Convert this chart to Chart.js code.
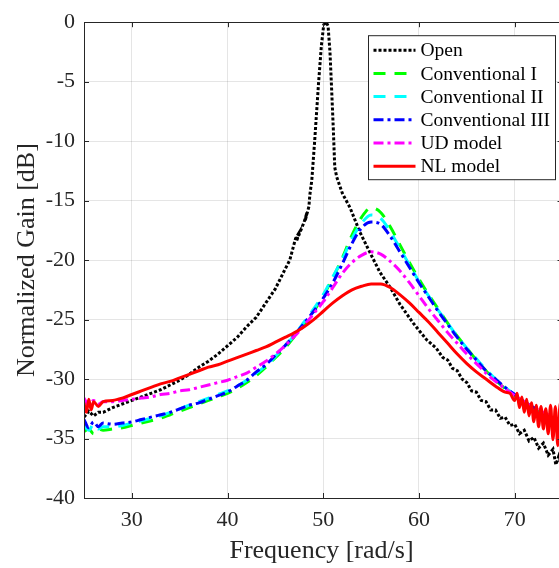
<!DOCTYPE html>
<html>
<head>
<meta charset="utf-8">
<script src="https://cdn.jsdelivr.net/npm/chart.js@4.4.1/dist/chart.umd.min.js"></script>
<style>
  html, body { margin: 0; padding: 0; background: #ffffff; }
  #wrap { width: 559px; height: 568px; position: relative; }
</style>
</head>
<body>
<div id="wrap"><canvas id="c" width="559" height="568"></canvas></div>
<script>
// Axis ticks
const freqTicks = [30, 40, 50, 60, 70];
const gainTicks = [-40, -35, -30, -25, -20, -15, -10, -5, 0];

// Open loop measurement
const openFreq = [
  25, 25.5, 26, 26.5, 27, 28, 29, 30, 31, 32,
  33, 34, 35, 36, 37, 38, 39, 40, 41, 42,
  43, 44, 45, 45.8, 46.5, 46.8, 47.1, 47.4, 47.2, 47.7,
  48.0, 48.3, 48.1, 48.5, 48.6, 48.8, 49.1, 49.5, 49.8, 50.05,
  50.3, 50.5, 50.7, 50.85, 51.05, 51.2, 51.4, 52.0, 52.8, 53.8,
  54.9, 55.9, 57.0, 58.0, 59.4, 60.8, 61.8, 62.5, 63, 63.5,
  64, 64.5, 65, 65.5, 66, 66.5, 67, 67.5, 68, 68.5,
  69, 69.5, 70, 70.5, 71, 71.5, 72, 72.5, 73, 73.5,
  74, 74.3, 74.6, 75
];
const openGain = [
  -33.2, -32.7, -33.1, -32.8, -32.8, -32.4, -32.1, -31.8, -31.5, -31.2,
  -30.9, -30.5, -30.1, -29.6, -29.0, -28.5, -27.9, -27.2, -26.5, -25.6,
  -24.8, -23.6, -22.4, -21.1, -20.0, -19.1, -18.2, -17.8, -18.4, -17.4,
  -16.8, -16.0, -16.7, -15.5, -14.5, -13.3, -10.0, -5.2, -2.0, -0.2,
  0.0, -0.3, -2.5, -5.2, -9.0, -12.2, -13.0, -14.4, -15.6, -17.6,
  -19.4, -21.0, -22.3, -23.7, -25.3, -26.7, -27.4, -28.2, -28.4, -29.1,
  -29.3, -30.0, -30.3, -31.0, -31.1, -31.8, -31.9, -32.6, -32.6, -33.3,
  -33.2, -33.9, -33.8, -34.6, -34.3, -35.2, -34.9, -35.8, -35.4, -36.4,
  -35.9, -37.2, -36.5, -37.5
];

// Conventional controllers and UD model share one frequency grid
const convFreq = [
  25, 25.5, 26, 26.5, 27, 28, 29, 30, 31, 32,
  33, 34, 35, 36, 37, 38, 39, 40, 41, 42,
  43, 44, 45, 46, 47, 48, 49, 50, 51, 52,
  53, 54, 55, 56, 57, 58, 59, 60, 61, 62,
  63, 64, 65, 66, 67, 68, 69, 70, 71, 72,
  73, 74, 75
];
const conv1Gain = [
  -34.4, -34.2, -34.6, -34.2, -34.3, -34.2, -34.1, -33.9, -33.7, -33.5,
  -33.3, -33.0, -32.7, -32.4, -32.1, -31.8, -31.5, -31.2, -30.8, -30.3,
  -29.7, -29.0, -28.2, -27.4, -26.4, -25.4, -24.3, -23.0, -21.5, -19.8,
  -17.9, -16.4, -15.6, -16.0, -17.2, -18.7, -20.2, -21.6, -22.9, -24.1,
  -25.3, -26.4, -27.4, -28.4, -29.3, -30.1, -30.8, -31.4, -32.0, -32.5,
  -33.0, -33.5, -34.0
];
const conv2Gain = [
  -33.9, -34.3, -33.8, -34.2, -34.0, -34.0, -33.9, -33.7, -33.5, -33.3,
  -33.1, -32.8, -32.5, -32.2, -31.9, -31.6, -31.3, -31.0, -30.6, -30.1,
  -29.5, -28.9, -28.1, -27.2, -26.3, -25.2, -24.1, -22.9, -21.4, -19.9,
  -18.2, -16.9, -16.2, -16.5, -17.6, -19.0, -20.4, -21.8, -23.0, -24.2,
  -25.3, -26.4, -27.4, -28.3, -29.2, -30.0, -30.7, -31.3, -31.9, -32.4,
  -32.9, -33.4, -33.9
];
const conv3Gain = [
  -33.4, -34.1, -33.6, -34.0, -33.7, -33.8, -33.7, -33.6, -33.4, -33.2,
  -33.0, -32.8, -32.5, -32.2, -32.0, -31.7, -31.4, -31.1, -30.6, -30.1,
  -29.4, -28.8, -28.0, -27.2, -26.3, -25.3, -24.3, -23.2, -21.9, -20.3,
  -18.6, -17.3, -16.8, -17.0, -18.0, -19.3, -20.6, -21.9, -23.1, -24.3,
  -25.4, -26.5, -27.5, -28.4, -29.3, -30.0, -30.7, -31.3, -31.9, -32.4,
  -32.9, -33.4, -33.9
];
const udGain = [
  -31.6, -32.2, -31.8, -32.1, -31.9, -31.9, -31.8, -31.7, -31.6, -31.5,
  -31.3, -31.2, -31.0, -30.9, -30.7, -30.5, -30.3, -30.1, -29.8, -29.5,
  -29.0, -28.5, -27.9, -27.2, -26.4, -25.5, -24.5, -23.5, -22.3, -21.1,
  -20.2, -19.6, -19.3, -19.5, -20.1, -20.9, -21.9, -23.0, -24.1, -25.1,
  -26.1, -27.0, -27.9, -28.7, -29.5, -30.2, -30.8, -31.4, -31.9, -32.4,
  -32.8, -33.2, -33.6
];

// NL model, measured on a finer grid at the ends
const nlFreq = [
  25, 25.25, 25.5, 25.75, 26, 26.5, 27, 28, 29, 30,
  31, 32, 33, 34, 35, 36, 37, 38, 39, 40,
  41, 42, 43, 44, 45, 46, 47, 48, 49, 50,
  51, 52, 53, 54, 55, 56, 57, 58, 59, 60,
  61, 62, 63, 64, 65, 66, 67, 68, 69, 69.5,
  70, 70.25, 70.5, 70.75, 71, 71.25, 71.5, 71.75, 72, 72.25,
  72.5, 72.75, 73, 73.25, 73.5, 73.75, 74, 74.25, 74.5, 74.75,
  75
];
const nlGain = [
  -32.0, -32.8, -31.7, -32.6, -31.9, -32.3, -31.9, -31.8, -31.6, -31.3,
  -31.0, -30.7, -30.4, -30.2, -29.9, -29.6, -29.3, -29.0, -28.8, -28.5,
  -28.2, -27.9, -27.6, -27.3, -26.9, -26.5, -26.1, -25.6, -25.0, -24.3,
  -23.6, -23.0, -22.5, -22.2, -22.0, -22.0, -22.3, -22.9, -23.6, -24.4,
  -25.2, -26.1, -27.0, -27.9, -28.7, -29.4, -30.0, -30.6, -31.1, -31.2,
  -31.8, -31.2, -32.4, -31.5, -32.8, -31.7, -33.1, -32.0, -33.6, -32.2,
  -34.0, -32.3, -34.2, -32.5, -34.6, -32.2, -35.1, -32.3, -35.6, -32.0,
  -35.4
];

const pts = (xs, ys) => xs.map((x, i) => ({ x: x, y: ys[i] }));

const SERIF = "'Liberation Serif', 'Times New Roman', 'DejaVu Serif', serif";
const AXIS_COLOR = '#262626';

const datasets = [
  { label: 'Open', data: pts(openFreq, openGain), borderColor: '#000000',
    borderWidth: 3, borderDash: [3, 2], tension: 0, order: 6 },
  { label: 'Conventional I', data: pts(convFreq, conv1Gain), borderColor: '#00ff00',
    borderWidth: 3, borderDash: [12, 9], cubicInterpolationMode: 'monotone', order: 5 },
  { label: 'Conventional II', data: pts(convFreq, conv2Gain), borderColor: '#00ffff',
    borderWidth: 3, borderDash: [12, 9], cubicInterpolationMode: 'monotone', order: 4 },
  { label: 'Conventional III', data: pts(convFreq, conv3Gain), borderColor: '#0000ff',
    borderWidth: 3, borderDash: [10, 4, 3, 4], cubicInterpolationMode: 'monotone', order: 3 },
  { label: 'UD model', data: pts(convFreq, udGain), borderColor: '#ff00ff',
    borderWidth: 3, borderDash: [10, 4, 3, 4], cubicInterpolationMode: 'monotone', order: 2 },
  { label: 'NL model', data: pts(nlFreq, nlGain), borderColor: '#ff0000',
    borderWidth: 3, borderDash: [], cubicInterpolationMode: 'monotone', order: 1 }
];
datasets.forEach(d => { d.pointRadius = 0; d.fill = false; d.borderCapStyle = 'butt'; });

// Box frame, inward tick marks and the legend
const framePlugin = {
  id: 'frame',
  afterDatasetsDraw(chart) {
    const { ctx, chartArea: a, scales: { x, y } } = chart;
    const px = v => Math.round(v) + 0.5;
    const xRight = x.getPixelForValue(75);
    ctx.save();
    ctx.strokeStyle = AXIS_COLOR;
    ctx.lineWidth = 1;
    ctx.setLineDash([]);
    ctx.beginPath();
    ctx.moveTo(px(a.left), px(a.top));
    ctx.lineTo(px(a.left), px(a.bottom));
    ctx.lineTo(chart.width, px(a.bottom));
    ctx.moveTo(px(a.left), px(a.top));
    ctx.lineTo(chart.width, px(a.top));
    const tl = 5;
    freqTicks.forEach(v => {
      const p = px(x.getPixelForValue(v));
      ctx.moveTo(p, a.bottom); ctx.lineTo(p, a.bottom - tl);
      ctx.moveTo(p, a.top); ctx.lineTo(p, a.top + tl);
    });
    gainTicks.forEach(v => {
      const p = px(y.getPixelForValue(v));
      ctx.moveTo(a.left, p); ctx.lineTo(a.left + tl, p);
      ctx.moveTo(xRight, p); ctx.lineTo(xRight - tl, p);
    });
    ctx.stroke();

    // legend
    const bx = 368.5, by = a.top + 13.5, bw = 187, bh = 144;
    ctx.fillStyle = '#ffffff';
    ctx.fillRect(bx, by, bw, bh);
    ctx.strokeStyle = AXIS_COLOR;
    ctx.strokeRect(bx, by, bw, bh);
    ctx.font = '19.5px ' + SERIF;
    ctx.textBaseline = 'middle';
    ctx.textAlign = 'left';
    chart.data.datasets.forEach((d, i) => {
      const cy = by + 14.5 + i * 23.2;
      ctx.save();
      ctx.strokeStyle = d.borderColor;
      ctx.lineWidth = d.borderWidth;
      ctx.setLineDash(d.borderDash || []);
      ctx.beginPath();
      ctx.moveTo(bx + 5, cy);
      ctx.lineTo(bx + 47, cy);
      ctx.stroke();
      ctx.restore();
      ctx.fillStyle = '#000000';
      ctx.fillText(d.label, bx + 52, cy + 1);
    });
    ctx.restore();
  }
};

new Chart(document.getElementById('c'), {
  type: 'line',
  data: { datasets: datasets },
  options: {
    responsive: false,
    devicePixelRatio: 1,
    animation: false,
    layout: { padding: { top: 21, right: 0, bottom: 0, left: 0 } },
    plugins: { legend: { display: false }, tooltip: { enabled: false } },
    scales: {
      x: {
        type: 'linear',
        min: 25,
        max: 74.63,
        afterBuildTicks: s => { s.ticks = freqTicks.map(v => ({ value: v })); },
        afterFit: s => { s.height = 70; },
        ticks: {
          autoSkip: false, maxRotation: 0, padding: 9,
          color: AXIS_COLOR,
          font: { family: SERIF, size: 22 },
          callback: v => String(v)
        },
        grid: { color: 'rgba(38,38,38,0.12)', lineWidth: 1, drawTicks: false },
        border: { display: false },
        title: {
          display: true, text: 'Frequency [rad/s]', color: AXIS_COLOR,
          font: { family: SERIF, size: 26 },
          padding: { top: 0, bottom: 1 }
        }
      },
      y: {
        type: 'linear',
        min: -40,
        max: 0,
        afterBuildTicks: s => { s.ticks = gainTicks.map(v => ({ value: v })); },
        afterFit: s => { s.width = 84; },
        ticks: {
          padding: 9,
          color: AXIS_COLOR,
          font: { family: SERIF, size: 22 },
          callback: v => String(v)
        },
        grid: { color: 'rgba(38,38,38,0.12)', lineWidth: 1, drawTicks: false },
        border: { display: false },
        title: {
          display: true, text: 'Normalized Gain [dB]', color: AXIS_COLOR,
          font: { family: SERIF, size: 26 },
          padding: { top: 12, bottom: 0 }
        }
      }
    }
  },
  plugins: [framePlugin]
});
</script>
</body>
</html>
